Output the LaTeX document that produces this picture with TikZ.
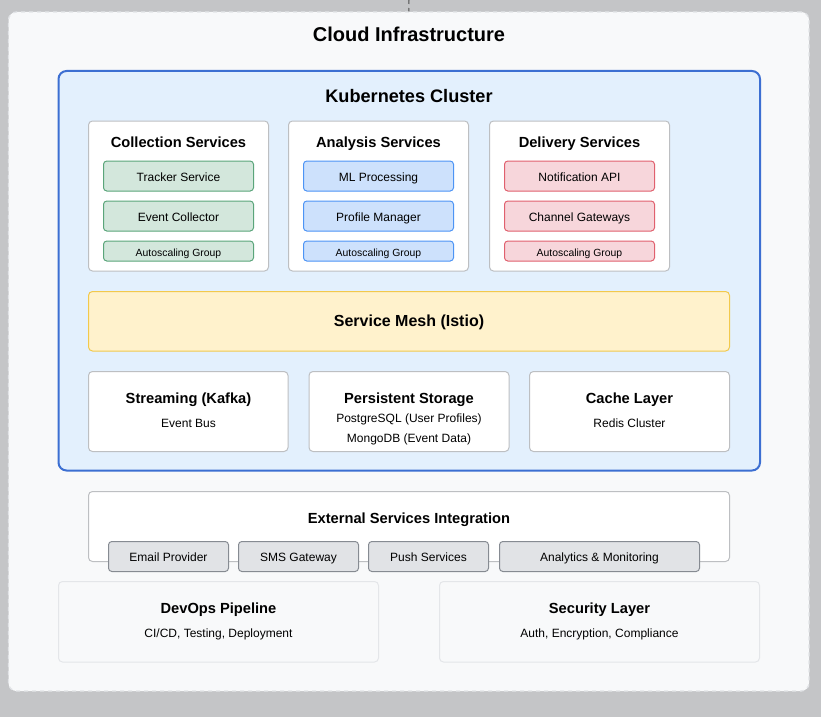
\documentclass[tikz,border=0pt]{standalone}
\usepackage{fontspec}
\setmainfont{Liberation Sans}
\usetikzlibrary{fit}
\definecolor{bggray}{HTML}{C4C5C7}
\definecolor{outerfill}{HTML}{F8F9FA}
\definecolor{outerdraw}{HTML}{E2E4E7}
\definecolor{kubefill}{HTML}{E3F0FD}
\definecolor{kubedraw}{HTML}{3C6FD2}
\definecolor{greenfill}{HTML}{D3E7DC}
\definecolor{greendraw}{HTML}{5AA57A}
\definecolor{bluefill}{HTML}{CDE1FC}
\definecolor{bluedraw}{HTML}{4D94F5}
\definecolor{redfill}{HTML}{F7D6DB}
\definecolor{reddraw}{HTML}{E0606E}
\definecolor{meshfill}{HTML}{FFF2CC}
\definecolor{meshdraw}{HTML}{F2C94C}
\definecolor{boxdraw}{HTML}{BDBFC2}
\definecolor{btnfill}{HTML}{E1E3E6}
\definecolor{btndraw}{HTML}{868B92}
\definecolor{softdraw}{HTML}{E4E6E9}
\tikzset{
  x=0.75pt, y=-0.75pt,
  area/.style={inner sep=0pt, rounded corners=3pt},
  outerbox/.style={area, fill=outerfill, draw=outerdraw, dashed, line width=1pt, rounded corners=6pt},
  kubebox/.style={area, fill=kubefill, draw=kubedraw, line width=1.5pt, rounded corners=6pt},
  groupbox/.style={area, fill=white, draw=boxdraw, line width=0.75pt},
  softbox/.style={area, fill=outerfill, draw=softdraw, line width=0.75pt},
  greenbox/.style={area, fill=greenfill, draw=greendraw, line width=0.75pt, rounded corners=2.5pt},
  bluebox/.style={area, fill=bluefill, draw=bluedraw, line width=0.75pt, rounded corners=2.5pt},
  redbox/.style={area, fill=redfill, draw=reddraw, line width=0.75pt, rounded corners=2.5pt},
  meshbox/.style={area, fill=meshfill, draw=meshdraw, line width=0.75pt},
  btnbox/.style={area, fill=btnfill, draw=btndraw, line width=0.75pt, rounded corners=2.5pt},
  txt/.style={inner sep=0pt, text height=0.72em, text depth=0pt},
  bigtitle/.style={txt, font=\fontsize{15}{18}\selectfont\bfseries},
  kubetitle/.style={txt, font=\fontsize{13.6}{16}\selectfont\bfseries},
  meshtitle/.style={txt, font=\fontsize{12}{14}\selectfont\bfseries},
  gtitle/.style={txt, font=\fontsize{11}{13}\selectfont\bfseries},
  itemtext/.style={txt, font=\fontsize{9}{11}\selectfont},
  smalltext/.style={txt, font=\fontsize{7.8}{9}\selectfont},
  down/.style={yshift=-0.4pt},
}
\begin{document}
\begin{tikzpicture}
\useasboundingbox (0,0) rectangle (821,717);
\fill[bggray] (0,0) rectangle (821,717);
\coordinate (topend) at (409,0);
% outer
\node[outerbox, fit={(8.5,12) (809,691)}] (cloud) {};
\draw[black!70, dashed, line width=0.75pt] (topend) -- (cloud.north);
\node[bigtitle] (cloudt) at (409,36.5) {Cloud Infrastructure};
% kubernetes
\node[kubebox, fit={(58.5,71) (760,470.5)}] (kube) {};
\node[kubetitle] (kubet) at (409,98) {Kubernetes Cluster};
% collection
\node[groupbox, fit={(88.5,121) (268.5,271)}] (coll) {};
\node[gtitle] at (178.5,142.5) {Collection Services};
\node[greenbox, fit={(103.5,161) (253.5,191)}] (tracker) {};
\node[itemtext, down] at (tracker.center) {Tracker Service};
\node[greenbox, fit={(103.5,201) (253.5,231)}] (collector) {};
\node[itemtext, down] at (collector.center) {Event Collector};
\node[greenbox, fit={(103.5,241) (253.5,261)}] (collauto) {};
\node[smalltext, down] at (collauto.center) {Autoscaling Group};
% analysis
\node[groupbox, fit={(288.5,121) (468.5,271)}] (anal) {};
\node[gtitle] at (378.5,142.5) {Analysis Services};
\node[bluebox, fit={(303.5,161) (453.5,191)}] (ml) {};
\node[itemtext, down] at (ml.center) {ML Processing};
\node[bluebox, fit={(303.5,201) (453.5,231)}] (profile) {};
\node[itemtext, down] at (profile.center) {Profile Manager};
\node[bluebox, fit={(303.5,241) (453.5,261)}] (analauto) {};
\node[smalltext, down] at (analauto.center) {Autoscaling Group};
% delivery
\node[groupbox, fit={(489.5,121) (669.5,271)}] (deliv) {};
\node[gtitle] at (579.5,142.5) {Delivery Services};
\node[redbox, fit={(504.5,161) (654.5,191)}] (notif) {};
\node[itemtext, down] at (notif.center) {Notification API};
\node[redbox, fit={(504.5,201) (654.5,231)}] (chan) {};
\node[itemtext, down] at (chan.center) {Channel Gateways};
\node[redbox, fit={(504.5,241) (654.5,261)}] (delauto) {};
\node[smalltext, down] at (delauto.center) {Autoscaling Group};
% mesh
\node[meshbox, fit={(88.5,291.5) (729.5,351)}] (mesh) {};
\node[meshtitle, down] at (mesh.center) {Service Mesh (Istio)};
% storage row
\node[groupbox, fit={(88.5,371.5) (288,451.5)}] (kafka) {};
\node[gtitle] at (188.5,398.5) {Streaming (Kafka)};
\node[itemtext] at (188.5,423) {Event Bus};
\node[groupbox, fit={(309,371.5) (509,451.5)}] (store) {};
\node[gtitle] at (409,398.5) {Persistent Storage};
\node[itemtext] at (409,418) {PostgreSQL (User Profiles)};
\node[itemtext] at (409,438) {MongoDB (Event Data)};
\node[groupbox, fit={(529.5,371.5) (729.5,451.5)}] (cache) {};
\node[gtitle] at (629.5,398.5) {Cache Layer};
\node[itemtext] at (629.5,423) {Redis Cluster};
% external
\node[groupbox, fit={(88.5,491.5) (729.5,561.5)}] (ext) {};
\node[gtitle] at (409,518.5) {External Services Integration};
\node[btnbox, fit={(108.5,541.5) (228.5,571.5)}] (email) {};
\node[itemtext, down] at (email.center) {Email Provider};
\node[btnbox, fit={(238.5,541.5) (358.5,571.5)}] (sms) {};
\node[itemtext, down] at (sms.center) {SMS Gateway};
\node[btnbox, fit={(368.5,541.5) (488.5,571.5)}] (push) {};
\node[itemtext, down] at (push.center) {Push Services};
\node[btnbox, fit={(499.5,541.5) (699.5,571.5)}] (analytics) {};
\node[itemtext, down] at (analytics.center) {Analytics \& Monitoring};
% devops / security
\node[softbox, fit={(58.5,581.5) (378.5,662)}] (devops) {};
\node[gtitle] at (218.5,608.5) {DevOps Pipeline};
\node[itemtext] at (218.5,633) {CI/CD, Testing, Deployment};
\node[softbox, fit={(439.5,581.5) (759.5,662)}] (sec) {};
\node[gtitle] at (599.5,608.5) {Security Layer};
\node[itemtext] at (599.5,633) {Auth, Encryption, Compliance};
\end{tikzpicture}
\end{document}
